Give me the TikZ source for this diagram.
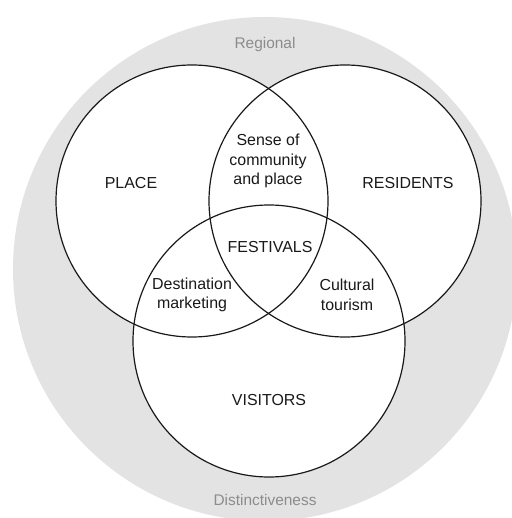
\documentclass[tikz,border=0pt]{standalone}
\usepackage{fontspec}
\setmainfont{Liberation Sans}
\begin{document}
\begin{tikzpicture}[x=1bp,y=-1bp,
  ring/.style={draw=black!90, line width=1.2bp},
  lbl/.style={font=\fontsize{16}{19.5}\selectfont, align=center, inner sep=0pt, text=black!90},
  zone/.style={font=\fontsize{15.5}{19}\selectfont, text=black!45, inner sep=0pt}]
\clip (0,0) rectangle (512,518);
\fill[white] (0,0) rectangle (512,518);
% outer regional disc
\fill[black!11] (265,269) circle[radius=252];
% the three sets
\fill[white] (192,201) circle[radius=136];
\fill[white] (345,201) circle[radius=136];
\fill[white] (269,341) circle[radius=136];
\draw[ring] (192,201) circle[radius=136];
\draw[ring] (345,201) circle[radius=136];
\draw[ring] (269,341) circle[radius=136];
% labels
\node[zone] (regional) at (265,45) {Regional};
\node[zone] (distinct) at (265,500) {Distinctiveness};
\node[lbl] (place) at (131,183) {PLACE};
\node[lbl] (residents) at (408,183) {RESIDENTS};
\node[lbl] (visitors) at (269,400) {VISITORS};
\node[lbl] (sense) at (268,161) {Sense of\\community\\and place};
\node[lbl] (festivals) at (270,247) {FESTIVALS};
\node[lbl] (destination) at (192,295) {Destination\\marketing};
\node[lbl] (cultural) at (347,295) {Cultural\\tourism};
\end{tikzpicture}
\end{document}
